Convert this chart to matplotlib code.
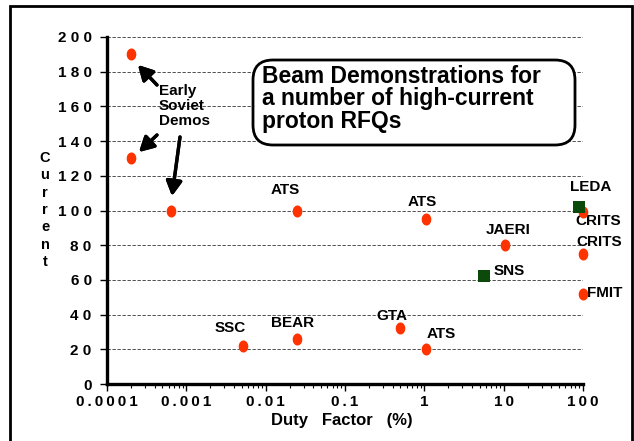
import numpy as np
import matplotlib.pyplot as plt
from matplotlib.path import Path
from matplotlib.patches import FancyBboxPatch, Rectangle

# RFQ beam demonstrations: duty factor (%) vs current (mA)
soviet_duty = [0.0002, 0.0002, 0.00065]
soviet_current = [190, 130, 100]

rfq_names = ['ATS', 'ATS', 'CRITS', 'JAERI', 'CRITS', 'FMIT', 'GTA', 'ATS', 'SSC', 'BEAR']
rfq_duty = [0.025, 1.05, 100, 10.5, 100, 100, 0.5, 1.05, 0.0052, 0.025]
rfq_current = [100, 95, 99, 80, 75, 52, 32, 20, 22, 26]

new_names = ['LEDA', 'SNS']
new_duty = [88, 5.6]
new_current = [102, 62]

x_ticks = [0.0001, 0.001, 0.01, 0.1, 1, 10, 100]
x_tick_labels = ['0.0001', '0.001', '0.01', '0.1', '1', '10', '100']
y_ticks = [0, 20, 40, 60, 80, 100, 120, 140, 160, 180, 200]
y_tick_labels = ['0', '2 0', '4 0', '6 0', '8 0', '1 0 0', '1 2 0', '1 4 0', '1 6 0', '1 8 0', '2 0 0']

# label offsets in pixels (dx, dy) from each point
rfq_offsets = [(-12, 21), (-4, 17), (15, -9), (3, 15), (16, 12), (22, 1),
               (-9, 12), (15, 15), (-13, 18), (-5, 16)]
new_offsets = [(12, 20), (26, 5)]

W, H = 634, 441
fig = plt.figure(figsize=(W / 100, H / 100), dpi=100)
plt.rcParams['font.family'] = ['Liberation Sans', 'DejaVu Sans']


def fx(px):
    return px / W


def fy(py):
    return 1 - py / H


def spaced(s):
    # the original tick labels are letter-spaced
    return '\u2009'.join(s)


# outer frame
fig.patches.append(Rectangle((fx(10), -0.1), fx(622), fy(6) + 0.1,
                             transform=fig.transFigure, fill=False,
                             lw=2, edgecolor='k'))

ax = fig.add_axes([fx(107), fy(384), fx(476), (384 - 37) / H])
ax.set_xscale('log')
ax.set_xlim(0.0001, 100)
ax.set_ylim(0, 200)

# elongated oval marker
t = np.linspace(0, 2 * np.pi, 40)
oval = Path(np.column_stack([0.8 * np.cos(t), np.sin(t)]))

ax.scatter(soviet_duty, soviet_current, marker=oval, s=75, color='#ff3300',
           linewidths=0, zorder=4, clip_on=False)
ax.scatter(rfq_duty, rfq_current, marker=oval, s=75, color='#ff3300',
           linewidths=0, zorder=4, clip_on=False)
ax.scatter(new_duty, new_current, marker='s', s=70, color='#0b4a0b',
           linewidths=0, zorder=5, clip_on=False)

for name, x, y, off in zip(rfq_names + new_names, rfq_duty + new_duty,
                           rfq_current + new_current, rfq_offsets + new_offsets):
    ax.annotate(name, (x, y), xytext=off, textcoords='offset pixels',
                ha='center', va='center', fontsize=11, fontweight='bold',
                annotation_clip=False, zorder=3)

# grid
for yv in y_ticks[1:]:
    ax.axhline(yv, color='#333333', lw=0.6, ls=(0, (4, 2)), zorder=1)

for s in ['top', 'right']:
    ax.spines[s].set_visible(False)
for s in ['left', 'bottom']:
    ax.spines[s].set_linewidth(2.4)

ax.set_xticks(x_ticks)
ax.set_xticklabels([spaced(l) for l in x_tick_labels], fontsize=11, fontweight='bold')
ax.set_yticks(y_ticks)
ax.set_yticklabels(y_tick_labels, fontsize=11, fontweight='bold')
ax.tick_params(axis='x', which='major', length=5, width=1, direction='out', pad=3)
ax.tick_params(axis='x', which='minor', length=3, width=0.8, direction='out')
ax.tick_params(axis='y', length=5, width=1, direction='out', pad=6)

fig.text(fx(342), fy(421), 'Duty   Factor   (%)', ha='center', va='center',
         fontsize=12, fontweight='bold')
fig.text(fx(45), fy(210), 'C\nu\nr\nr\ne\nn\nt', ha='center', va='center',
         fontsize=10.5, fontweight='bold', linespacing=1.3)

# Early Soviet demos note + arrows
fig.text(fx(159), fy(106), 'Early\nSoviet\nDemos', ha='left', va='center',
         fontsize=11, fontweight='bold', linespacing=1.05)
arrows = [((157, 85), (138, 65)), ((157, 135), (139, 152)), ((180, 137), (172, 196))]
for tail, head in arrows:
    fig.add_artist(plt.annotate('', xy=(fx(head[0]), fy(head[1])),
                                xytext=(fx(tail[0]), fy(tail[1])),
                                xycoords='figure fraction', textcoords='figure fraction',
                                arrowprops=dict(arrowstyle='-|>,head_width=0.3,head_length=0.55',
                                                lw=2.4, color='k',
                                                mutation_scale=16, shrinkA=0, shrinkB=0)))

# title box
fig.patches.append(FancyBboxPatch((2.53, 4.41 - 1.45), 3.22, 0.85,
                                  boxstyle='round,pad=0,rounding_size=0.2',
                                  transform=fig.dpi_scale_trans, facecolor='white',
                                  edgecolor='k', lw=2, zorder=5))
fig.text(fx(262), fy(99), 'Beam Demonstrations for\na number of high-current\nproton RFQs',
         ha='left', va='center', fontsize=16.5, fontweight='bold', linespacing=0.98,
         zorder=6)

fig.savefig('out.png', dpi=100)
